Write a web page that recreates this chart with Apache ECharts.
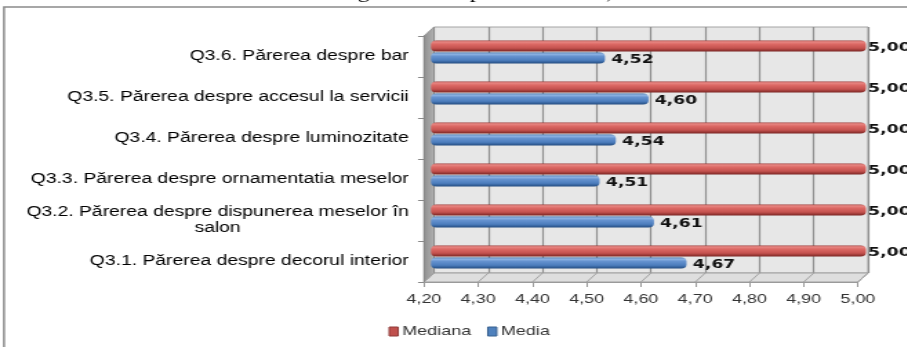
<!DOCTYPE html>
<html>
<head>
<meta charset="utf-8">
<script src="https://cdn.jsdelivr.net/npm/echarts@6/dist/echarts.min.js"></script>
<style>
  html, body { margin: 0; padding: 0; background: #fff; overflow: hidden; }
  /* the chart is laid out narrower and widened horizontally, giving the wide lettering */
  #chart { width: 657px; height: 347px; transform: scaleX(1.38); transform-origin: 0 0; }
</style>
</head>
<body>
<div id="chart"></div>
<script>
// ---- data ----
const titleText = 'Graficul nr. 3. Mediana generală a aprecierii calității serviciilor oferite';
const categories = [
  'Q3.1. Părerea despre decorul interior',
  'Q3.2. Părerea despre dispunerea meselor în\nsalon',
  'Q3.3. Părerea despre ornamentatia meselor',
  'Q3.4. Părerea despre luminozitate',
  'Q3.5. Părerea despre accesul la servicii',
  'Q3.6. Părerea despre bar'
];
const seriesNames = ['Mediana', 'Media'];
const medianaValues = [5.00, 5.00, 5.00, 5.00, 5.00, 5.00];
const mediaValues = [4.67, 4.61, 4.51, 4.54, 4.60, 4.52];
const xMin = 4.2, xMax = 5.0, xStep = 0.1;
const tickLabels = ['4,20', '4,30', '4,40', '4,50', '4,60', '4,70', '4,80', '4,90', '5,00'];

// ---- styling ----
const W = 657;
const fmt = v => v.toFixed(2).replace('.', ',');
const cylinder = stops => new echarts.graphic.LinearGradient(0, 0, 0, 1,
  stops.map(([o, c]) => ({ offset: o, color: c })));
const redFill = cylinder([[0, '#9c3532'], [0.12, '#e88985'], [0.35, '#dc6864'], [0.7, '#c4524f'], [1, '#7c2624']]);
const blueFill = cylinder([[0, '#35649e'], [0.12, '#93b8e6'], [0.35, '#6592cf'], [0.7, '#4c7dbd'], [1, '#234c80']]);

const valueLabel = dist => ({
  show: true, position: 'right', distance: dist, offset: [0, 2],
  fontFamily: 'DejaVu Sans', fontWeight: 'bold', fontSize: 12.5, color: '#111',
  formatter: p => fmt(p.value)
});

const chart = echarts.init(document.getElementById('chart'), null, { renderer: 'canvas' });

const option = {
  backgroundColor: '#fff',
  animation: false,
  title: {
    text: titleText, left: 96, top: -15, padding: 0,
    textStyle: { fontFamily: 'Liberation Serif', fontSize: 17, fontWeight: 'normal', color: '#000' }
  },
  legend: {
    left: 276.5, top: 320, icon: 'rect', itemWidth: 6.5, itemHeight: 9, itemGap: 11.6,
    textStyle: { fontFamily: 'Liberation Sans', fontSize: 13, color: '#333', padding: [0, 0, 0, -2] },
    data: [
      { name: seriesNames[0], itemStyle: { color: '#c0504d', borderColor: '#8f3b39', borderWidth: 1 } },
      { name: seriesNames[1], itemStyle: { color: '#4f81bd', borderColor: '#37608f', borderWidth: 1 } }
    ]
  },
  grid: [
    // back wall
    { left: 314.5, right: W - 629, top: 27, bottom: 74, show: true,
      backgroundColor: '#e7e7e7', borderColor: '#a4a4a4', borderWidth: 1, outerBoundsMode: 'none' },
    // plane of the bars
    { left: 312.3, right: W - 627.5, top: 31.5, bottom: 69.5, outerBoundsMode: 'none' },
    // front edge with the axes
    { left: 307.2, right: W - 621.7, top: 36, bottom: 65, outerBoundsMode: 'none' }
  ],
  xAxis: [
    { gridIndex: 0, type: 'value', min: xMin, max: xMax, interval: xStep,
      axisLine: { show: false }, axisTick: { show: false }, axisLabel: { show: false },
      splitLine: { show: true, lineStyle: { color: '#8e8e8e', width: 1.2 } } },
    { gridIndex: 1, type: 'value', min: xMin, max: xMax, interval: xStep, show: false },
    { gridIndex: 2, type: 'value', min: xMin, max: xMax, interval: xStep, z: 5,
      axisLine: { show: true, lineStyle: { color: '#9a9a9a', width: 1 } },
      axisTick: { show: true, inside: false, length: 5, lineStyle: { color: '#9a9a9a' } },
      splitLine: { show: false },
      axisLabel: { margin: 11, fontFamily: 'Liberation Sans', fontSize: 13, color: '#333',
        formatter: (v, i) => tickLabels[i] } }
  ],
  yAxis: [
    { gridIndex: 0, type: 'value', min: 0, max: 1, show: false },
    { gridIndex: 1, type: 'category', data: categories, show: false },
    { gridIndex: 2, type: 'category', data: categories, z: 5,
      axisLine: { show: true, lineStyle: { color: '#8a8a8a', width: 1 } },
      axisTick: { show: true, length: 4.3, lineStyle: { color: '#8a8a8a' } },
      axisLabel: {
        margin: 11, fontFamily: 'Liberation Sans', fontSize: 14, color: '#000', lineHeight: 16,
        formatter: v => v.includes('\n') ? v.split('\n').map(s => '{c|' + s + '}').join('\n') : v,
        rich: { c: { align: 'center', fontFamily: 'Liberation Sans', fontSize: 14, color: '#000', lineHeight: 16 } }
      } }
  ],
  series: [
    { name: seriesNames[0], type: 'bar', xAxisIndex: 1, yAxisIndex: 1, data: medianaValues,
      barWidth: 11, barGap: '10%', z: 3,
      itemStyle: { color: redFill, borderRadius: 4 }, label: valueLabel(1.5) },
    { name: seriesNames[1], type: 'bar', xAxisIndex: 1, yAxisIndex: 1, data: mediaValues,
      barWidth: 11, barGap: '10%', z: 3,
      itemStyle: { color: blueFill, borderRadius: 4 }, label: valueLabel(4.5) }
  ]
};
chart.setOption(option);

// side wall, floor and frame, placed from the axes' own pixel positions
function decorate() {
  const px = (axis, v) => chart.convertToPixel({ xAxisIndex: axis }, v);
  const py = (axis, v) => chart.convertToPixel({ yAxisIndex: axis }, v);
  const bx0 = px(0, xMin), bx1 = px(0, xMax);
  const byTop = py(0, 1), byBot = py(0, 0);
  const fx0 = px(2, xMin), fx1 = px(2, xMax);
  const c0 = py(2, 0), c1 = py(2, 1), band = Math.abs(c0 - c1);
  const fyBot = c0 + band / 2;
  const fyTop = py(2, categories.length - 1) - band / 2;

  const elements = [
    { type: 'rect', z: -10, silent: true,
      shape: { x: 4 / 1.38, y: 7, width: W + 20, height: 400 },
      style: { fill: 'none', stroke: '#8a8a8a', lineWidth: 1.5 } },
    { type: 'polygon', z: 1, silent: true,
      shape: { points: [[fx0, fyTop], [bx0, byTop], [bx0, byBot], [fx0, fyBot]] },
      style: { fill: new echarts.graphic.LinearGradient(0, 0, 1, 0,
        [{ offset: 0, color: '#8e8e8e' }, { offset: 1, color: '#b2b2b2' }]),
        stroke: '#8a8a8a', lineWidth: 0.8 } },
    { type: 'polygon', z: 1, silent: true,
      shape: { points: [[fx0, fyBot], [bx0, byBot], [bx1, byBot], [fx1, fyBot]] },
      style: { fill: '#dedede', stroke: '#a0a0a0', lineWidth: 1 } }
  ];
  for (let v = 0; v < tickLabels.length; v++) {
    const val = xMin + v * xStep;
    elements.push({ type: 'line', z: 1, silent: true,
      shape: { x1: px(2, val), y1: fyBot, x2: px(0, val), y2: byBot },
      style: { stroke: '#a2a2a2', lineWidth: 1 } });
  }
  chart.setOption({ graphic: { elements } });
}
decorate();
</script>
</body>
</html>
